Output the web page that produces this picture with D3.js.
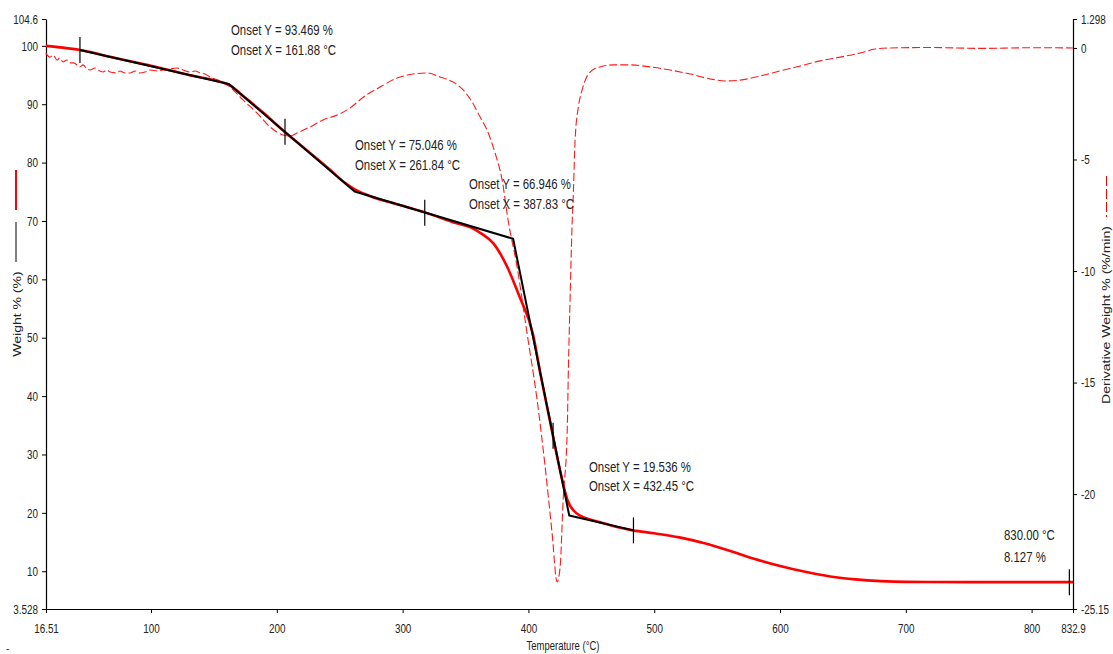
<!DOCTYPE html>
<html>
<head>
<meta charset="utf-8">
<script src="https://cdn.jsdelivr.net/npm/d3@7"></script>
<style>
  html, body { margin: 0; padding: 0; background: #fff; }
  svg { display: block; }
  text { font-family: "Liberation Sans", Arial, sans-serif; fill: #222; }
</style>
</head>
<body>
<script>
// ---- TGA data -------------------------------------------------------------
// Weight loss curve (temperature °C, weight %)
const weightTemps = [16.51, 30, 43.5, 70, 100, 130, 150, 162, 175, 190, 205, 220, 240, 255, 262,
  275, 300, 320, 340, 354, 363, 372, 383, 393, 403.5, 410, 416.5, 424.5, 431, 438.5, 457, 483, 500,
  520, 540, 560, 580, 600, 620, 640, 660, 680, 700, 750, 800, 832.9];
const weightValues = [100.0, 99.7, 99.3, 98.0, 96.6, 95.0, 94.1, 93.3, 91.1, 88.4, 85.5, 82.8, 79.2, 76.4, 75.4,
  74.2, 72.6, 71.3, 69.8, 68.9, 67.8, 66.2, 62.2, 57.0, 50.7, 43.3, 36.4, 27.9, 22.2, 19.9, 18.4, 17.0, 16.5,
  15.8, 14.8, 13.5, 12.1, 10.9, 9.9, 9.1, 8.6, 8.3, 8.17, 8.13, 8.13, 8.127];

// Derivative weight curve (temperature °C, %/min)
const derivTemps = [16.51, 18.1, 19.7, 22.1, 25.3, 27.6, 30.0, 33.2, 35.6, 38.0, 41.2, 43.5, 45.9, 49.1,
  51.5, 55.5, 59.4, 61.8, 65.0, 67.4, 73.0, 75.3, 79.3, 83.3, 87.3, 91.3, 95.2, 99.2, 104.8, 109.5,
  115.1, 120.7, 125.4, 131.0, 135.0, 139.0, 142.9, 146.9, 154.9, 162.8, 173.1, 184.3, 194.6, 204.9,
  210.5, 216.1, 226.4, 236.7, 247.9, 258.2, 270.1, 282.1, 295.6, 308.3, 319.4, 329.8, 340.1, 348.1,
  355.2, 361.6, 367.1, 373.5, 379.1, 383.8, 391.0, 398.9, 406.9, 413.3, 418.8, 422.8, 425.2, 427.6,
  430.8, 431.8, 433.1, 434.5, 435.8, 437.1, 439.7, 442.7, 449.0, 457.0, 467.3, 480.8, 496.7, 512.7,
  528.6, 544.5, 556.4, 568.3, 584.2, 600.1, 616.0, 631.9, 647.8, 663.7, 675.6, 687.6, 720, 760, 800, 832.9];
const derivValues = [-0.23, -0.36, -0.41, -0.32, -0.54, -0.45, -0.63, -0.54, -0.67, -0.67, -0.76, -0.85, -0.76, -0.94,
  -0.99, -0.90, -1.03, -1.08, -0.99, -1.08, -1.12, -1.03, -1.12, -1.12, -1.03, -1.12, -1.08, -0.99, -1.03, -0.99,
  -0.94, -0.90, -0.99, -1.08, -1.03, -1.12, -1.17, -1.30, -1.48, -1.75, -2.33, -2.92, -3.54, -3.90,
  -3.95, -3.81, -3.54, -3.23, -3.01, -2.69, -2.15, -1.75, -1.35, -1.17, -1.12, -1.30, -1.53, -1.88,
  -2.42, -3.10, -3.68, -4.71, -5.92, -7.71, -9.82, -12.78, -15.78, -18.78, -21.74, -23.94, -23.27, -20.26,
  -17.26, -14.30, -11.30, -8.30, -6.37, -4.13, -2.65, -1.88, -1.08, -0.85, -0.76, -0.76, -0.85, -0.99,
  -1.17, -1.39, -1.48, -1.44, -1.26, -1.03, -0.81, -0.58, -0.41, -0.23, -0.05, 0.00, 0.02, -0.02, 0.01, 0.00];

// Onset tangent construction (temperature °C, weight %)
const onsetTemps = [43.5, 161.88, 261.84, 387.83, 432.45, 483.5];
const onsetWeights = [99.3, 93.469, 75.046, 66.946, 19.536, 17.0];

// Analysis range markers on the curve
const markerTemps = [43.5, 206.5, 317.6, 419.6, 483.5, 830.0];
const markerWeights = [99.3, 85.3, 71.4, 33.2, 17.0, 8.127];

// Annotation texts
const annotationTexts = [
  ["Onset Y = 93.469 %", "Onset X = 161.88 °C"],
  ["Onset Y = 75.046 %", "Onset X = 261.84 °C"],
  ["Onset Y = 66.946 %", "Onset X = 387.83 °C"],
  ["Onset Y = 19.536 %", "Onset X = 432.45 °C"],
  ["830.00 °C", "8.127 %"]
];

// Axis ticks
const xTickValues = [16.51, 100, 200, 300, 400, 500, 600, 700, 800, 832.9];
const xTickLabels = ["16.51", "100", "200", "300", "400", "500", "600", "700", "800", "832.9"];
const yTickValues = [3.528, 10, 20, 30, 40, 50, 60, 70, 80, 90, 100, 104.6];
const yTickLabels = ["3.528", "10", "20", "30", "40", "50", "60", "70", "80", "90", "100", "104.6"];
const y2TickValues = [1.298, 0, -5, -10, -15, -20, -25.15];
const y2TickLabels = ["1.298", "0", "-5", "-10", "-15", "-20", "-25.15"];

const xTitle = "Temperature (°C)";
const yTitle = "Weight % (%)";
const y2Title = "Derivative Weight % (%/min)";

// ---- Layout ---------------------------------------------------------------
const W = 1113, H = 654;
const plot = { left: 46, right: 1073, top: 19, bottom: 609 };
const SX = 0.76; // horizontal squeeze of the label font

const svg = d3.select("body").append("svg").attr("width", W).attr("height", H);
svg.append("rect").attr("width", W).attr("height", H).attr("fill", "#fff");

const x = d3.scaleLinear().domain([16.51, 832.9]).range([plot.left, plot.right]);
const y = d3.scaleLinear().domain([3.528, 104.6]).range([plot.bottom, plot.top]);
const y2 = d3.scaleLinear().domain([-25.15, 1.298]).range([plot.bottom, plot.top]);

function squeezedText(g, px, py, str, size, anchor) {
  return g.append("text")
    .attr("transform", `translate(${px},${py}) scale(${SX},1)`)
    .attr("text-anchor", anchor || "start")
    .style("font-size", size + "px")
    .text(str);
}

// ---- Axes -----------------------------------------------------------------
function styleAxis(g) {
  g.selectAll("path.domain").attr("stroke", "#000").attr("stroke-width", 1.2);
  g.selectAll(".tick line").attr("stroke", "#000").attr("stroke-width", 1);
  g.selectAll(".tick text").style("font-size", "13px")
    .style("font-family", '"Liberation Sans", Arial, sans-serif').attr("fill", "#222");
}

const xAxis = svg.append("g").attr("transform", `translate(0,${plot.bottom})`)
  .call(d3.axisBottom(x).tickValues(xTickValues)
    .tickFormat((d, i) => xTickLabels[i]).tickSize(4).tickSizeOuter(0).tickPadding(11));
styleAxis(xAxis);
xAxis.selectAll(".tick text").attr("transform", `scale(${SX},1)`);

const yAxis = svg.append("g").attr("transform", `translate(${plot.left},0)`)
  .call(d3.axisLeft(y).tickValues(yTickValues)
    .tickFormat((d, i) => yTickLabels[i]).tickSize(4).tickSizeOuter(0).tickPadding(4));
styleAxis(yAxis);
yAxis.selectAll(".tick text").attr("x", -8 / SX).attr("transform", `scale(${SX},1)`);

const y2Axis = svg.append("g").attr("transform", `translate(${plot.right},0)`)
  .call(d3.axisRight(y2).tickValues(y2TickValues)
    .tickFormat((d, i) => y2TickLabels[i]).tickSize(4).tickSizeOuter(0).tickPadding(4));
styleAxis(y2Axis);
y2Axis.selectAll(".tick text").attr("x", 8 / SX).attr("transform", `scale(${SX},1)`);

// ---- Axis titles with line keys ---------------------------------------------
squeezedText(svg, 563, 650, xTitle, 12.5, "middle");

svg.append("text")
  .attr("transform", `translate(21,314) scale(${SX + 0.06},1) rotate(-90)`)
  .attr("text-anchor", "middle").style("font-size", "14px").text(yTitle);
svg.append("line").attr("x1", 16).attr("x2", 16).attr("y1", 222).attr("y2", 262)
  .attr("stroke", "#000").attr("stroke-width", 1);
svg.append("line").attr("x1", 16).attr("x2", 16).attr("y1", 170).attr("y2", 210)
  .attr("stroke", "#ff0000").attr("stroke-width", 2);

svg.append("text")
  .attr("transform", `translate(1110,315) scale(${SX + 0.06},1) rotate(-90)`)
  .attr("text-anchor", "middle").style("font-size", "14px").text(y2Title);
svg.append("line").attr("x1", 1106.5).attr("x2", 1106.5).attr("y1", 176).attr("y2", 217)
  .attr("stroke", "#ff0000").attr("stroke-width", 1).attr("stroke-dasharray", "10,3");

svg.append("text").attr("x", 6).attr("y", 652).style("font-size", "10px")
  .attr("fill", "#334").text("-");

// ---- Curves ---------------------------------------------------------------
const derivLine = d3.line()
  .x((d, i) => x(derivTemps[i])).y(d => y2(d)).curve(d3.curveMonotoneX);
svg.append("path").datum(derivValues)
  .attr("d", derivLine).attr("fill", "none")
  .attr("stroke", "#ff1a1a").attr("stroke-width", 1.1)
  .attr("stroke-dasharray", "8,3");

const weightLine = d3.line()
  .x((d, i) => x(weightTemps[i])).y(d => y(d)).curve(d3.curveMonotoneX);
svg.append("path").datum(weightValues)
  .attr("d", weightLine).attr("fill", "none")
  .attr("stroke", "#ff0000").attr("stroke-width", 2.6);

const onsetLine = d3.line()
  .x((d, i) => x(onsetTemps[i])).y(d => y(d));
svg.append("path").datum(onsetWeights)
  .attr("d", onsetLine).attr("fill", "none")
  .attr("stroke", "#000").attr("stroke-width", 2).attr("stroke-linejoin", "round");

// Range markers
svg.append("g").selectAll("line").data(markerWeights).join("line")
  .attr("x1", (d, i) => x(markerTemps[i])).attr("x2", (d, i) => x(markerTemps[i]))
  .attr("y1", d => y(d) - 13).attr("y2", d => y(d) + 13)
  .attr("stroke", "#000").attr("stroke-width", 1.2);

// ---- Annotations ----------------------------------------------------------
const annotationSpots = [
  { px: 231, py: 35, gap: 20 },
  { px: 355, py: 150, gap: 20 },
  { px: 469, py: 189, gap: 20 },
  { px: 589, py: 472, gap: 19 },
  { px: 1004, py: 540, gap: 22 }
];
annotationTexts.forEach((lines, k) => {
  const s = annotationSpots[k];
  lines.forEach((str, j) => squeezedText(svg, s.px, s.py + j * s.gap, str, 15, "start"));
});
</script>
</body>
</html>
